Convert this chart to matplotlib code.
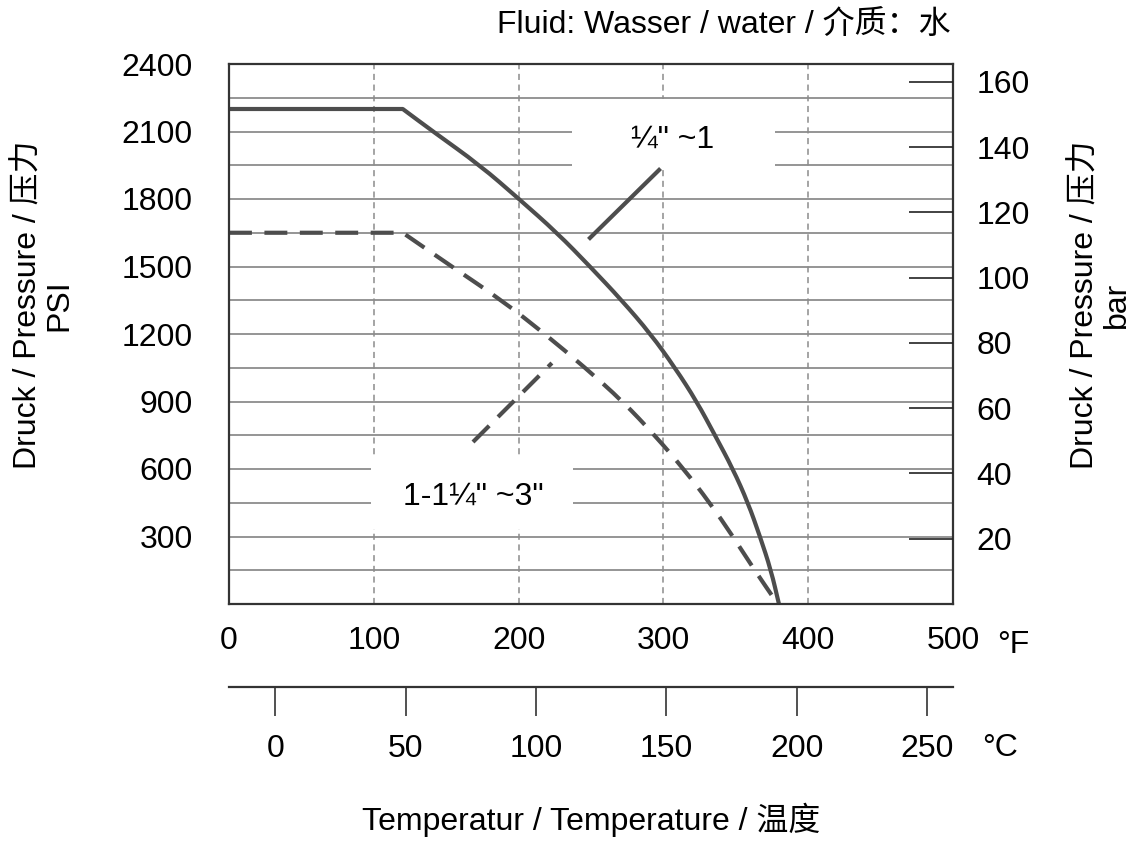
import matplotlib
matplotlib.use("Agg")
import matplotlib.pyplot as plt
from matplotlib.patches import Rectangle, PathPatch
from matplotlib.path import Path
import numpy as np

plt.rcParams['font.family'] = ['Liberation Sans', 'Noto Sans CJK SC']

# pressure / temperature rating (degF, PSI)
small_f = [0, 120, 140.9, 173.3, 200.3, 226.5, 249.3, 271.2, 291.2, 308, 323,
           335.6, 348, 358.4, 366.7, 374.3, 379.8]
small_psi = [2200, 2200, 2100, 1950, 1800, 1650, 1500, 1350, 1200, 1050, 900,
             750, 600, 450, 300, 150, 0]

large_f = [0, 120, 153.8, 188.3, 218.2, 246, 272, 294, 314, 332, 348, 363, 379]
large_psi = [1650, 1650, 1500, 1350, 1200, 1050, 900, 750, 600, 450, 300, 150, 0]

small_label = '¼" ~1'
large_label = '1-1¼" ~3"'

# label positions (degF, PSI), white box behind them, leader lines
small_label_pos = (306.6, 2062)
small_box = (237, 1938, 377, 2244)
small_leader_f = [249.3, 297]
small_leader_psi = [1627, 1929]

large_label_pos = (169, 475)
large_box = (98, 333, 237.6, 658)
large_leader_f = [168.5, 223]
large_leader_psi = [720, 1071]

psi_ticks = [300, 600, 900, 1200, 1500, 1800, 2100, 2400]
psi_grid = np.arange(150, 2400, 150)
f_ticks = [0, 100, 200, 300, 400, 500]
f_grid = [100, 200, 300, 400]
c_ticks = [0, 50, 100, 150, 200, 250]
bar_ticks = [20, 40, 60, 80, 100, 120, 140, 160]

PSI_PER_BAR = 14.5038

curve_col = '#4d4d4d'
grid_col = '#8c8c8c'
frame_col = '#333333'
fs = 23


def smooth_path(xs, ys):
    # straight plateau, then quadratic bezier through the read points
    pts = np.column_stack([xs, ys])
    verts = [pts[0], pts[1]]
    codes = [Path.MOVETO, Path.LINETO]
    rest = pts[1:]
    verts.append((rest[0] + rest[1]) / 2)
    codes.append(Path.LINETO)
    for i in range(1, len(rest) - 1):
        verts += [rest[i], (rest[i] + rest[i + 1]) / 2]
        codes += [Path.CURVE3, Path.CURVE3]
    verts.append(rest[-1])
    codes.append(Path.LINETO)
    return Path(verts, codes)


fig = plt.figure(figsize=(11.4, 8.41), dpi=100)
ax = fig.add_axes([229/1140, 1-604/841, (953-229)/1140, (604-64)/841])
ax.set_xlim(0, 500)
ax.set_ylim(0, 2400)

ax.hlines(psi_grid, 0, 500, color=grid_col, lw=1.3, zorder=1)
ax.vlines(f_grid, 0, 2400, color=grid_col, lw=1.1, linestyles=(0, (4, 3)), zorder=1)

for x0, y0, x1, y1 in [small_box, large_box]:
    ax.add_patch(Rectangle((x0, y0), x1-x0, y1-y0, facecolor='white',
                           edgecolor='none', zorder=2))

ax.add_patch(PathPatch(smooth_path(small_f, small_psi), facecolor='none',
                       edgecolor=curve_col, lw=3, zorder=3, joinstyle='round'))
ax.add_patch(PathPatch(smooth_path(large_f, large_psi), facecolor='none',
                       edgecolor=curve_col, lw=3, zorder=3, linestyle=(0, (5.5, 3))))
ax.plot(small_leader_f, small_leader_psi, color=curve_col, lw=3, zorder=3)
ax.plot(large_leader_f, large_leader_psi, color=curve_col, lw=3, zorder=3,
        linestyle=(0, (5.5, 3)))

ax.text(*small_label_pos, small_label, fontsize=fs, ha='center', va='center', zorder=4)
ax.text(*large_label_pos, large_label, fontsize=fs, ha='center', va='center', zorder=4)

for sp in ax.spines.values():
    sp.set_color(frame_col)
    sp.set_linewidth(1.6)
    sp.set_zorder(5)

ax.set_yticks(psi_ticks)
ax.set_xticks(f_ticks)
ax.tick_params(axis='y', length=0, pad=26, labelsize=fs)
ax.tick_params(axis='x', length=0, pad=16, labelsize=fs)

# bar scale on the right
axr = ax.twinx()
axr.set_ylim(0, 2400 / PSI_PER_BAR)
axr.set_yticks(bar_ticks)
axr.tick_params(axis='y', direction='in', length=31.5, width=1.2, color='#222222',
                pad=17, labelsize=fs)
for sp in axr.spines.values():
    sp.set_visible(False)

# celsius scale below
sec = ax.secondary_xaxis(-(687-604)/540, functions=(lambda f: (f-32)/1.8,
                                                     lambda c: c*1.8+32))
sec.set_xticks(c_ticks)
sec.tick_params(axis='x', direction='out', length=21, width=1.1, color='#222222',
                pad=13, labelsize=fs)
sec.spines['bottom'].set_color(frame_col)
sec.spines['bottom'].set_linewidth(1.6)

fig.text(1013/1140, 1-645/841, '°F', fontsize=fs, ha='center', va='center')
fig.text(1000/1140, 1-748/841, '°C', fontsize=fs, ha='center', va='center')
fig.text(951/1140, 1-25/841, 'Fluid: Wasser / water / 介质：水', fontsize=fs,
         ha='right', va='center')
fig.text(591/1140, 1-820/841, 'Temperatur / Temperature / 温度', fontsize=fs,
         ha='center', va='center')
fig.text(44/1140, 1-305/841, 'Druck / Pressure / 压力\nPSI', fontsize=fs,
         rotation=90, ha='center', va='center', multialignment='center',
         linespacing=1.05)
fig.text(1101/1140, 1-305/841, 'Druck / Pressure / 压力\nbar', fontsize=fs,
         rotation=90, ha='center', va='center', multialignment='center',
         linespacing=1.05)

fig.savefig('out.png', dpi=100)
